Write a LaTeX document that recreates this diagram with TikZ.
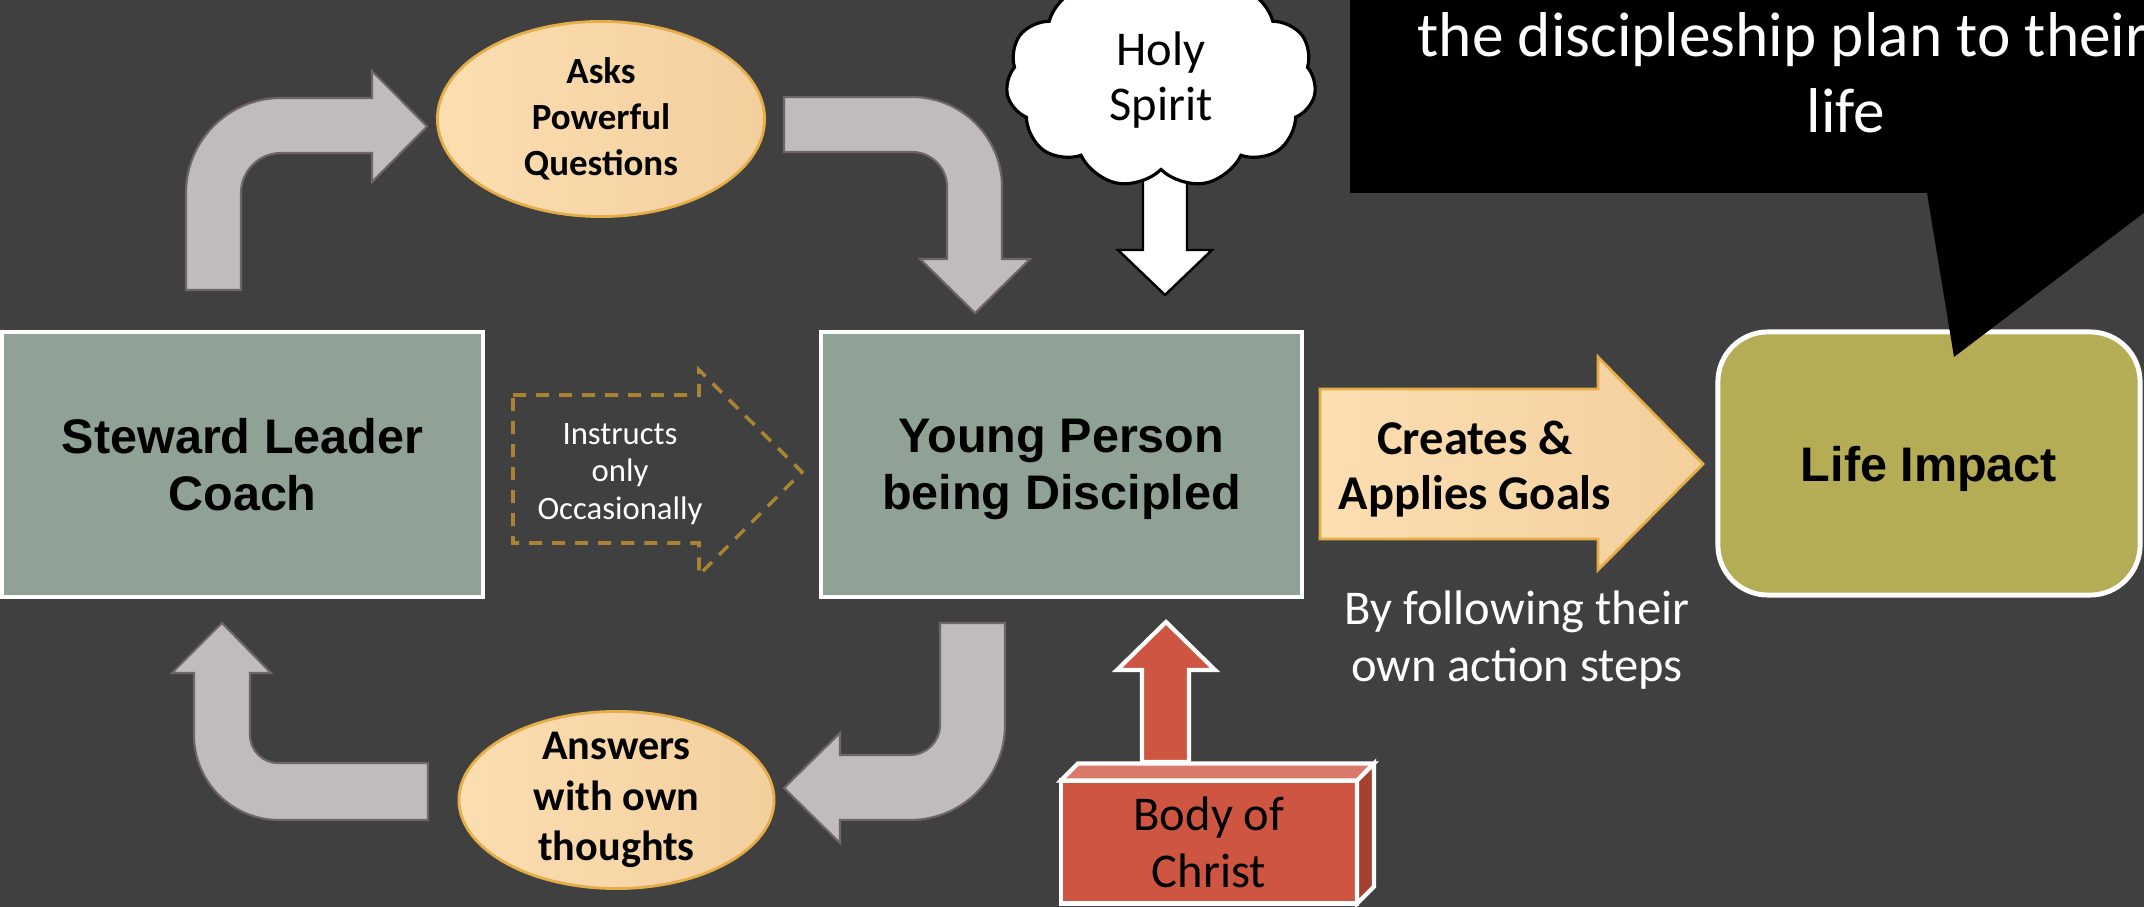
\documentclass[tikz,border=0pt]{standalone}
\usepackage{fontspec}
\setmainfont{Carlito}
\newfontfamily\headfont{Liberation Sans}
\usetikzlibrary{shapes.geometric,shapes.symbols}

\definecolor{slide}{HTML}{404040}
\definecolor{sage}{HTML}{90A196}
\definecolor{olive}{HTML}{B5AD55}
\definecolor{peachL}{HTML}{FCDEB1}
\definecolor{peachR}{HTML}{F3CF9E}
\definecolor{goldline}{HTML}{E4AD47}
\definecolor{bentfill}{HTML}{C0BBBC}
\definecolor{bentedge}{HTML}{6F6569}
\definecolor{dashgold}{HTML}{AA8434}
\definecolor{brick}{HTML}{CD5541}
\definecolor{bricktop}{HTML}{D9796A}
\definecolor{brickside}{HTML}{A5422F}

\begin{document}
\begin{tikzpicture}[
    x=0.01cm, y=0.01cm,
    card/.style={rectangle, draw=white, line width=1.3pt, fill=sage, minimum width=4.81cm, minimum height=2.65cm, align=center, outer sep=0pt, text depth=0pt, font=\headfont\bfseries\fontsize{13.8}{16.2}\selectfont},
    bubble/.style={ellipse, draw=goldline, line width=0.8pt, left color=peachL, right color=peachR, inner sep=-3pt, align=center},
    bent/.style={fill=bentfill, draw=bentedge, line width=0.6pt},
    note/.style={align=center, text=white, inner sep=0pt},
    brickbox/.style={rectangle, fill=brick, draw=white, line width=1.2pt, minimum width=2.96cm, minimum height=1.23cm, outer sep=0pt, inner sep=0pt, align=center, font=\fontsize{13.8}{16.2}\selectfont}
]

\useasboundingbox (0,0) rectangle (2144,-907);
\clip (0,0) rectangle (2144,-907);
\fill[slide] (0,0) rectangle (2144,-907);

\node[card] (coach) at (242.5,-464.5) {Steward Leader\\Coach};
\node[card] (young) at (1061.5,-464.5) {Young Person\\being Discipled};
\node[card, fill=olive, line width=1.4pt, rounded corners=0.5cm, minimum width=4.22cm, minimum height=2.63cm] (impact) at (1929,-463.5) {Life Impact};

\node[bubble, minimum width=3.27cm, minimum height=1.95cm, font=\bfseries\fontsize{10.5}{13}\selectfont] (asks) at (601,-119) {Asks\\Powerful\\Questions};
\node[bubble, minimum width=3.15cm, minimum height=1.77cm, font=\bfseries\fontsize{12}{14.4}\selectfont] (answers) at (616.5,-800) {Answers\\with own\\thoughts};

% bent arrows round the loop
\draw[bent] (186,-290) -- (186,-193) arc(180:90:95) -- (372,-98) -- (372,-71) -- (427,-126.5) -- (372,-182) -- (372,-153) -- (281,-153) arc(90:180:40) -- (241,-290) -- cycle;
\draw[bent] (784,-97) -- (912,-97) arc(90:0:90) -- (1002,-259) -- (1030,-259) -- (975,-313) -- (920,-259) -- (947,-259) -- (947,-187) arc(0:90:35) -- (784,-152) -- cycle;
\draw[bent] (940,-623) -- (1005,-623) -- (1005,-725) arc(0:-90:95) -- (840,-820) -- (840,-843) -- (784,-788) -- (840,-733) -- (840,-755) -- (910,-755) arc(-90:0:30) -- cycle;
\draw[bent] (428,-763) -- (428,-820) -- (279,-820) arc(270:180:85) -- (194,-673) -- (172,-673) -- (222,-623) -- (271,-673) -- (250,-673) -- (250,-735) arc(180:270:28) -- cycle;

% instructs only occasionally
\draw[dashgold, line width=1pt, dash pattern=on 0.13cm off 0.1cm] (513,-395) -- (699,-395) -- (699,-370) -- (802,-472) -- (699,-575) -- (699,-543) -- (513,-543) -- cycle;
\node[note, font=\fontsize{9.3}{10.7}\selectfont] (instructs) at (620,-474) {Instructs\\only\\Occasionally};

\draw[draw=goldline, line width=0.8pt, left color=peachL, right color=peachR] (1320,-389) -- (1598,-389) -- (1598,-357) -- (1703,-464) -- (1598,-570) -- (1598,-539) -- (1320,-539) -- cycle;
\node[font=\bfseries\fontsize{13.8}{15.6}\selectfont, align=center, inner sep=0pt] (goals) at (1475,-469) {Creates \&\\Applies Goals};
\node[note, font=\fontsize{13.8}{16}\selectfont] (steps) at (1517,-640) {By following their\\own action steps};

% holy spirit from above
\draw[fill=white, draw=black, line width=0.7pt] (1143,-140) -- (1143,-250) -- (1118,-250) -- (1165,-295) -- (1212,-250) -- (1187,-250) -- (1187,-140) -- cycle;
\node[cloud, cloud puffs=11, cloud puff arc=110, aspect=1.5, draw=black, line width=0.9pt, fill=white, minimum width=3.1cm, minimum height=2.15cm, inner sep=0pt, align=center, font=\fontsize{13.8}{15.6}\selectfont] (spirit) at (1161,-80) {Holy\\Spirit};

% body of christ from below
\draw[fill=brick, draw=white, line width=1.2pt] (1142,-762) -- (1142,-670) -- (1117,-670) -- (1166,-622) -- (1215,-670) -- (1189,-670) -- (1189,-762) -- cycle;
\node[brickbox] (body) at (1209,-842) {Body of\\Christ};
\draw[fill=bricktop, draw=white, line width=1.2pt] (body.north west) -- ++(17,17) -- ++(296,0) -- (body.north east) -- cycle;
\draw[fill=brickside, draw=white, line width=1.2pt] (body.north east) -- ++(17,17) -- ++(0,-123) -- (body.south east) -- cycle;

% callout
\fill[black] (1350,20) -- (1350,-193) -- (1927,-193) -- (1954,-357) -- (2170,-193) -- (2200,-193) -- (2200,20) -- cycle;
\node[anchor=base west, text=white, inner sep=0pt, font=\fontsize{18}{21.6}\selectfont] (plan) at (1417,-57) {the discipleship plan to their};
\node[anchor=base, text=white, inner sep=0pt, font=\fontsize{18}{21.6}\selectfont] (life) at (1846,-133) {life};

\end{tikzpicture}
\end{document}
